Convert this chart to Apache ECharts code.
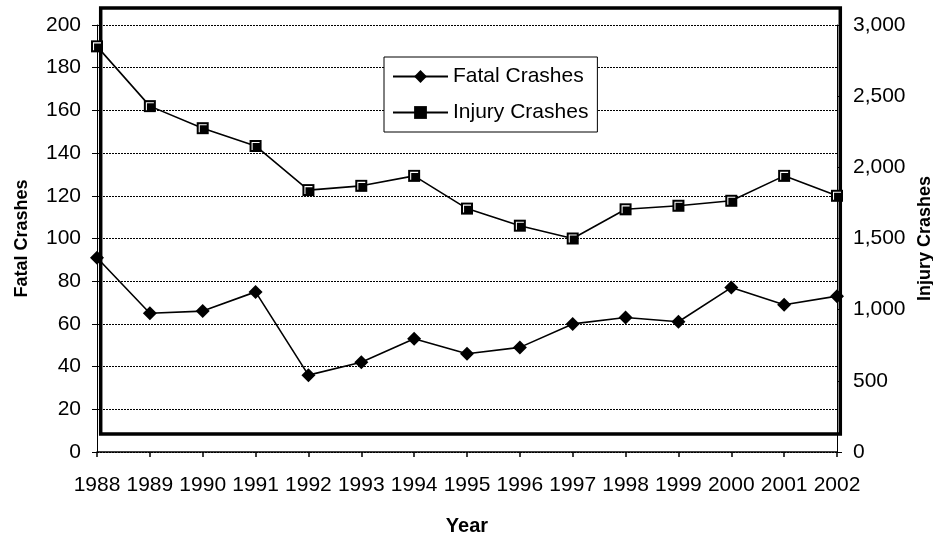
<!DOCTYPE html>
<html>
<head>
<meta charset="utf-8">
<script src="https://cdn.jsdelivr.net/npm/echarts@6/dist/echarts.min.js"></script>
<style>
  html, body { margin: 0; padding: 0; background: #fff; }
  #chart { width: 933px; height: 535px; }
</style>
</head>
<body>
<div id="chart"></div>
<script>
// Crash counts by year
var years = ['1988', '1989', '1990', '1991', '1992', '1993', '1994', '1995',
             '1996', '1997', '1998', '1999', '2000', '2001', '2002'];
var fatalCrashes = [91, 65, 66, 75, 36, 42, 53, 46, 49, 60, 63, 61, 77, 69, 73];
var injuryCrashes = [2850, 2430, 2275, 2150, 1840, 1870, 1940, 1710, 1590, 1500,
                     1705, 1730, 1765, 1940, 1800];

var FONT = 'Liberation Sans, Arial, sans-serif';

var chart = echarts.init(document.getElementById('chart'), null, { renderer: 'canvas' });

var option = {
  animation: false,
  backgroundColor: '#fff',
  textStyle: { fontFamily: FONT, color: '#000' },
  grid: { left: 97, right: 96, top: 25, bottom: 83, containLabel: false, outerBoundsMode: 'none' },
  legend: {
    data: ['Fatal Crashes', 'Injury Crashes'],
    orient: 'vertical',
    left: 384,
    top: 57,
    padding: [9, 9, 9, 8],
    itemGap: 15,
    itemWidth: 55,
    itemHeight: 16,
    backgroundColor: '#fff',
    borderColor: '#000',
    borderWidth: 1,
    borderRadius: 0,
    textStyle: { fontFamily: FONT, fontSize: 21, color: '#000' }
  },
  graphic: [{
    // heavy plot-area border
    type: 'rect',
    z: 1,
    silent: true,
    shape: { x: 100.7, y: 8, width: 739.6, height: 426 },
    style: { fill: 'none', stroke: '#000', lineWidth: 3.5 }
  }],
  xAxis: {
    type: 'category',
    data: years,
    boundaryGap: false,
    name: 'Year',
    nameLocation: 'middle',
    nameGap: 64,
    nameTextStyle: { fontFamily: FONT, fontSize: 20, fontWeight: 'bold', color: '#000' },
    axisLine: { lineStyle: { color: '#000', width: 1.5 } },
    axisTick: { show: true, length: 5, lineStyle: { color: '#000', width: 1.5 } },
    axisLabel: { fontFamily: FONT, fontSize: 21, color: '#000', margin: 23, interval: 0, hideOverlap: false },
    splitLine: { show: false }
  },
  yAxis: [{
    type: 'value',
    min: 0,
    max: 200,
    interval: 20,
    position: 'left',
    name: 'Fatal Crashes',
    nameLocation: 'middle',
    nameRotate: 90,
    nameGap: 66,
    nameTextStyle: { fontFamily: FONT, fontSize: 18, fontWeight: 'bold', color: '#000' },
    axisLine: { show: true, lineStyle: { color: '#000', width: 1 } },
    axisTick: { show: true, length: 5, lineStyle: { color: '#000', width: 1 } },
    axisLabel: { fontFamily: FONT, fontSize: 21, color: '#000', margin: 16 },
    splitLine: { show: true, lineStyle: { color: '#000', width: 1, type: [2, 1] } }
  }, {
    type: 'value',
    min: 0,
    max: 3000,
    interval: 500,
    position: 'right',
    name: 'Injury Crashes',
    nameLocation: 'middle',
    nameRotate: 90,
    nameGap: 78,
    nameTextStyle: { fontFamily: FONT, fontSize: 18, fontWeight: 'bold', color: '#000' },
    axisLine: { show: true, lineStyle: { color: '#000', width: 1 } },
    axisTick: { show: true, length: 5, lineStyle: { color: '#000', width: 1 } },
    axisLabel: {
      fontFamily: FONT, fontSize: 21, color: '#000', margin: 16,
      formatter: function (v) { return v.toLocaleString('en-US'); }
    },
    splitLine: { show: false }
  }],
  series: [{
    name: 'Fatal Crashes',
    type: 'line',
    yAxisIndex: 0,
    data: fatalCrashes,
    symbol: 'diamond',
    symbolSize: 14,
    z: 3,
    itemStyle: { color: '#000', borderColor: '#000', borderWidth: 0 },
    lineStyle: { color: '#000', width: 1.6 }
  }, {
    name: 'Injury Crashes',
    type: 'line',
    yAxisIndex: 1,
    data: injuryCrashes,
    symbol: 'rect',
    symbolSize: 12,
    z: 3,
    itemStyle: { color: '#000', borderColor: '#000', borderWidth: 0 },
    lineStyle: { color: '#000', width: 1.6 }
  }, {
    // white highlight edge inside each square marker
    name: 'Injury Crashes highlight',
    type: 'line',
    yAxisIndex: 1,
    data: injuryCrashes,
    symbol: 'path://M0,0H9V1.2H1.2V9H0Z',
    symbolSize: 8,
    symbolKeepAspect: true,
    z: 4,
    silent: true,
    itemStyle: { color: '#fff', borderWidth: 0 },
    lineStyle: { width: 0, opacity: 0 }
  }]
};

chart.setOption(option);
</script>
</body>
</html>
